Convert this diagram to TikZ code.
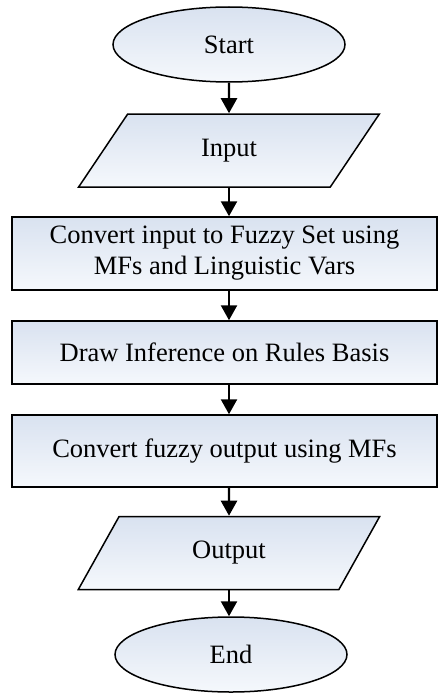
\documentclass[tikz,border=0pt]{standalone}
\usepackage{fontspec}
\setmainfont{Liberation Serif}
\usetikzlibrary{shapes.geometric,arrows.meta}

\definecolor{shadeTop}{RGB}{217,226,240}
\definecolor{shadeBottom}{RGB}{245,248,252}

\tikzset{
  flow/.style={line width=2.4pt, -{Triangle[width=16pt,length=15pt]}},
  terminal/.style={ellipse, draw, line width=1.5pt, top color=shadeTop, bottom color=shadeBottom,
    minimum width=232pt, minimum height=75pt, inner sep=0pt},
  inout/.style={trapezium, trapezium left angle=59.5, trapezium right angle=120.5, draw, line width=1.5pt,
    top color=shadeTop, bottom color=shadeBottom, trapezium stretches=true,
    minimum width=302pt, minimum height=73pt, inner sep=0pt},
  process/.style={rectangle, draw, line width=1.5pt, top color=shadeTop, bottom color=shadeBottom,
    minimum width=425pt, inner sep=0pt, align=center}
}

\begin{document}
\begin{tikzpicture}[x=1pt, y=-1pt, font=\fontsize{26.5}{31}\selectfont]
\useasboundingbox (0,0) rectangle (438,693);

%Nodes
\node[terminal] (start) at (229,44.5) {Start};

\node[inout] (input) at (229,150.5) {Input};

\node[process, minimum height=73pt] (fuzzify) at (224.5,253.5) {Convert input to Fuzzy Set using\\MFs and Linguistic Vars};

\node[process, minimum height=63pt] (infer) at (224.5,352.5) {Draw Inference on Rules Basis};

\node[process, minimum height=72pt] (defuzzify) at (224.5,451) {Convert fuzzy output using MFs};

\node[inout] (output) at (229,553) {Output};

\node[terminal] (end) at (231,654.5) {End};

%Lines
\draw[flow] (start.south) -- (input.north);
\draw[flow] (input.south) -- (input.south |- fuzzify.north);
\draw[flow] (input.south |- fuzzify.south) -- (input.south |- infer.north);
\draw[flow] (input.south |- infer.south) -- (input.south |- defuzzify.north);
\draw[flow] (input.south |- defuzzify.south) -- (output.north);
\draw[flow] (output.south) -- (output.south |- end.north);
\end{tikzpicture}
\end{document}
